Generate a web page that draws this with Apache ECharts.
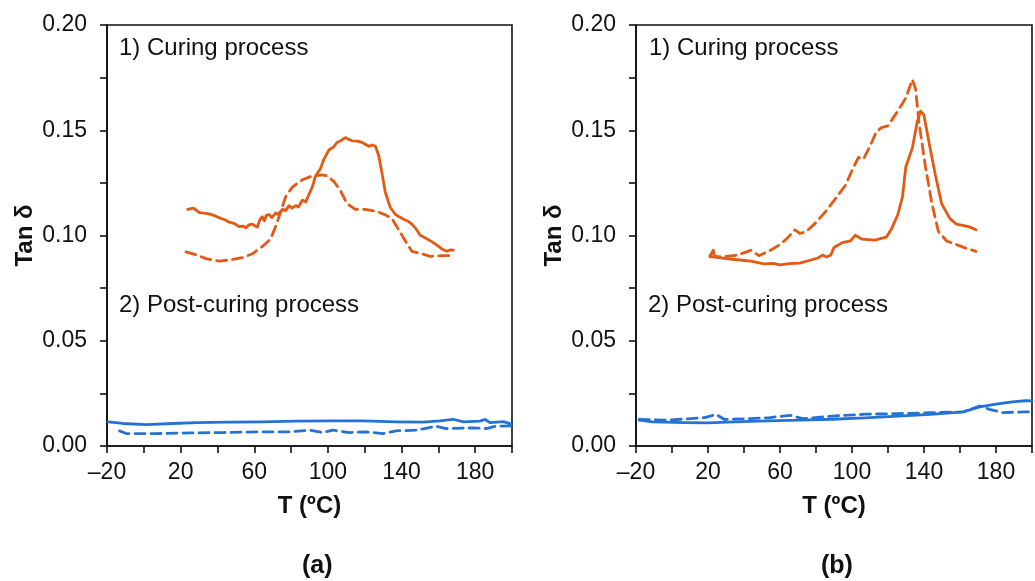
<!DOCTYPE html>
<html>
<head>
<meta charset="utf-8">
<script src="https://cdn.jsdelivr.net/npm/echarts@6/dist/echarts.min.js"></script>
<style>
html,body{margin:0;padding:0;background:#fff;}
#chart{width:1035px;height:581px;}
</style>
</head>
<body>
<div id="chart"></div>
<script>
// ---- Data (T in ºC, Tan δ) ----
const xTickLabels = ['–20', '20', '60', '100', '140', '180'];
const yTickLabels = ['0.00', '0.05', '0.10', '0.15', '0.20'];
const panelLabels = ['(a)', '(b)'];
const noteCuring = '1) Curing process';
const notePost = '2) Post-curing process';

// Panel (a)
const aCuringSolid = [[23.8,0.1124],[27,0.1130],[30.2,0.1109],[34,0.1105],[37.4,0.1098],[41,0.1084],[44,0.1075],[46.4,0.1063],[49,0.1058],[51.8,0.1042],[54,0.1045],[55.4,0.1036],[57,0.1050],[59,0.1054],[60.5,0.1045],[61.7,0.1040],[63,0.1075],[64.4,0.1089],[65.5,0.1070],[66.5,0.1095],[68,0.1100],[69.5,0.1085],[71.7,0.1107],[73,0.1100],[75.3,0.1124],[77,0.1118],[78.9,0.1142],[80.5,0.1130],[82.5,0.1142],[84,0.1135],[86.1,0.1168],[88,0.1160],[89.7,0.1195],[91.5,0.1230],[93.3,0.1283],[96,0.1318],[97.8,0.1362],[100.5,0.1406],[103,0.1420],[105,0.1442],[107,0.1450],[109.5,0.1465],[111,0.1458],[113.2,0.1450],[116,0.1448],[118.6,0.1442],[122.2,0.1424],[124,0.1430],[125.8,0.1424],[127.6,0.1380],[129.5,0.1290],[131.2,0.1204],[133.9,0.1133],[136.6,0.1101],[138.5,0.1090],[141.1,0.1077],[143.5,0.1068],[145.6,0.1054],[148,0.1030],[150.1,0.1001],[153,0.0988],[156.4,0.0971],[159,0.0955],[161.9,0.0936],[164.6,0.0925],[166.5,0.0932],[168.2,0.0931]];
const aCuringDashed = [[22.9,0.0922],[28.4,0.0908],[33.8,0.0890],[41,0.0878],[48.2,0.0886],[53.6,0.0895],[59,0.0913],[64.4,0.0948],[68.9,0.0983],[71.7,0.1045],[74.5,0.1116],[77.1,0.1186],[80.7,0.1230],[86.1,0.1265],[91.5,0.1283],[96.9,0.1288],[99.6,0.1283],[103.2,0.1257],[106.8,0.1213],[110.4,0.1151],[114.9,0.1124],[120.4,0.1124],[125.8,0.1116],[131.2,0.1098],[134.8,0.1080],[138.4,0.1028],[142,0.0975],[145.6,0.0925],[151,0.0913],[155.6,0.0901],[161.9,0.0904],[168.2,0.0904]];
const aPostSolid = [[-19.5,0.0115],[-11.3,0.0107],[1.4,0.0102],[15.9,0.0107],[28.5,0.0111],[46.6,0.0113],[64.7,0.0115],[82.9,0.0118],[101,0.0119],[119.1,0.0119],[137.2,0.0115],[151.7,0.0113],[160.8,0.0119],[168,0.0127],[173.5,0.0115],[182.5,0.0118],[185.3,0.0126],[188,0.0111],[195.2,0.0116],[199.8,0.0104]];
const aPostDashed = [[-13.2,0.0072],[-9.6,0.0059],[6.7,0.0059],[24.8,0.0062],[42.9,0.0064],[61,0.0067],[79.1,0.0067],[90,0.0075],[97.2,0.0064],[102.6,0.0075],[111.7,0.0064],[120.7,0.0067],[129.8,0.0059],[137,0.0072],[147.9,0.0075],[158.8,0.0094],[164.2,0.0083],[178.7,0.0086],[185.9,0.0083],[191.4,0.0094],[199.5,0.0096]];

// Panel (b)
const bCuringSolid = [[21.1,0.0904],[22.2,0.0900],[23,0.0930],[23.6,0.0898],[25.7,0.0895],[34.7,0.0886],[43.8,0.0878],[51,0.0865],[56,0.0868],[60.1,0.0860],[65,0.0866],[71,0.0869],[78.2,0.0886],[81,0.0893],[83.7,0.0907],[86,0.0898],[88.2,0.0907],[90,0.0943],[94.6,0.0966],[99.1,0.0974],[101.8,0.1001],[105.4,0.0983],[112.7,0.0978],[119,0.0992],[121.7,0.1027],[125.4,0.1098],[128.1,0.1186],[129.9,0.1327],[133.5,0.1415],[136.2,0.1538],[138.1,0.1591],[139.9,0.1574],[142.6,0.1450],[146.2,0.1292],[149.8,0.1151],[154.4,0.1080],[158,0.1054],[161.6,0.1048],[165.2,0.1041],[168.9,0.1027]];
const bCuringDashed = [[21.1,0.0899],[27.5,0.0899],[36.6,0.0907],[43.8,0.0930],[48.3,0.0904],[54.7,0.0930],[60.1,0.0957],[64.6,0.0992],[68.3,0.1027],[71,0.1010],[74.6,0.1018],[80.1,0.1063],[85.5,0.1115],[91,0.1177],[96.4,0.1239],[100,0.1309],[103.6,0.1371],[106.3,0.1362],[110,0.1424],[113.6,0.1494],[116.3,0.1512],[119.9,0.1521],[125.4,0.1591],[129.9,0.1653],[133.5,0.1741],[135.3,0.1697],[137.2,0.1538],[140.8,0.1327],[144.4,0.1151],[148,0.1019],[152.6,0.0974],[158,0.0957],[163.5,0.0939],[168.9,0.0925]];
const bPostSolid = [[-18.2,0.0123],[-10.9,0.0115],[7.3,0.0111],[20,0.0110],[34.5,0.0115],[52.7,0.0119],[70.9,0.0123],[89.1,0.0127],[107.3,0.0134],[125.5,0.0142],[143.6,0.0150],[161.8,0.0162],[170.9,0.0186],[180,0.0199],[189.1,0.0210],[196.4,0.0215],[200,0.0214]];
const bPostDashed = [[-18.2,0.0126],[-1.8,0.0123],[18.2,0.0135],[24.5,0.0150],[29.1,0.0126],[43.6,0.0130],[54.5,0.0135],[65.5,0.0146],[72.7,0.0130],[89.1,0.0142],[107.3,0.0151],[125.5,0.0154],[143.6,0.0158],[161.8,0.0162],[170.9,0.0190],[176.4,0.0174],[183.6,0.0159],[196.4,0.0162],[200,0.0163]];

// ---- Styling / layout ----
const ORANGE = '#E35A14';
const BLUE = '#2473D4';
const FONT = '"Liberation Sans", Arial, Helvetica, sans-serif';
const grids = [
  {left: 107, top: 25, width: 405, height: 421},
  {left: 636, top: 25, width: 405, height: 421}
];

function xAxis(i) {
  return {
    gridIndex: i, type: 'value', min: -20, max: 200, interval: 20,
    name: 'T (ºC)', nameLocation: 'middle', nameGap: 48,
    nameTextStyle: {fontFamily: FONT, fontWeight: 'bold', fontSize: 24, color: '#111'},
    axisLine: {onZero: false, lineStyle: {color: '#111', width: 1.6}},
    axisTick: {length: 7, lineStyle: {color: '#111', width: 1.6}},
    splitLine: {show: false},
    axisLabel: {
      fontFamily: FONT, fontSize: 23, color: '#111', margin: 15,
      formatter: function (v) {
        const r = Math.round(v);
        if (((r + 20) % 40) !== 0) return '';
        const s = xTickLabels.find(t => t === (r < 0 ? '–' + Math.abs(r) : String(r)));
        return s || '';
      }
    }
  };
}
function yAxis(i) {
  return {
    gridIndex: i, type: 'value', min: 0, max: 0.2, interval: 0.025,
    name: 'Tan δ', nameLocation: 'middle', nameGap: 70, nameRotate: 90,
    nameTextStyle: {fontFamily: FONT, fontWeight: 'bold', fontSize: 24, color: '#111'},
    axisLine: {show: true, onZero: false, lineStyle: {color: '#111', width: 1.6}},
    axisTick: {show: true, length: 7, lineStyle: {color: '#111', width: 1.6}},
    splitLine: {show: false},
    axisLabel: {
      fontFamily: FONT, fontSize: 23, color: '#111', margin: 20,
      formatter: function (v) {
        const k = Math.round(v * 1000);
        if (k % 50 !== 0) return '';
        const s = (k / 1000).toFixed(2);
        return yTickLabels.indexOf(s) >= 0 ? s : '';
      }
    }
  };
}
function line(i, data, color, dashed) {
  return {
    type: 'line', xAxisIndex: i, yAxisIndex: i, data: data,
    showSymbol: false, symbol: 'none', smooth: false, animation: false,
    lineStyle: {color: color, width: 2.8, type: dashed ? [10, 6] : 'solid', cap: 'round', join: 'round'},
    z: 3
  };
}
const NOTE_FONT = '24px ' + FONT;

const chart = echarts.init(document.getElementById('chart'), null, {renderer: 'canvas'});
chart.setOption({
  animation: false,
  backgroundColor: '#fff',
  grid: grids.map(g => Object.assign({show: true, borderColor: '#111', borderWidth: 1.6, backgroundColor: 'transparent'}, g)),
  xAxis: [xAxis(0), xAxis(1)],
  yAxis: [yAxis(0), yAxis(1)],
  series: [
    line(0, aCuringSolid, ORANGE, false),
    line(0, aCuringDashed, ORANGE, true),
    line(0, aPostSolid, BLUE, false),
    line(0, aPostDashed, BLUE, true),
    line(1, bCuringSolid, ORANGE, false),
    line(1, bCuringDashed, ORANGE, true),
    line(1, bPostSolid, BLUE, false),
    line(1, bPostDashed, BLUE, true)
  ],
  graphic: [
    {type: 'text', left: 119, top: 36, style: {text: noteCuring, font: NOTE_FONT, fill: '#111'}},
    {type: 'text', left: 119, top: 293, style: {text: notePost, font: NOTE_FONT, fill: '#111'}},
    {type: 'text', left: 649, top: 36, style: {text: noteCuring, font: NOTE_FONT, fill: '#111'}},
    {type: 'text', left: 648, top: 293, style: {text: notePost, font: NOTE_FONT, fill: '#111'}},
    {type: 'text', left: 302, top: 554, style: {text: panelLabels[0], font: 'bold 25px ' + FONT, fill: '#111'}},
    {type: 'text', left: 821, top: 554, style: {text: panelLabels[1], font: 'bold 25px ' + FONT, fill: '#111'}}
  ]
});
</script>
</body>
</html>
